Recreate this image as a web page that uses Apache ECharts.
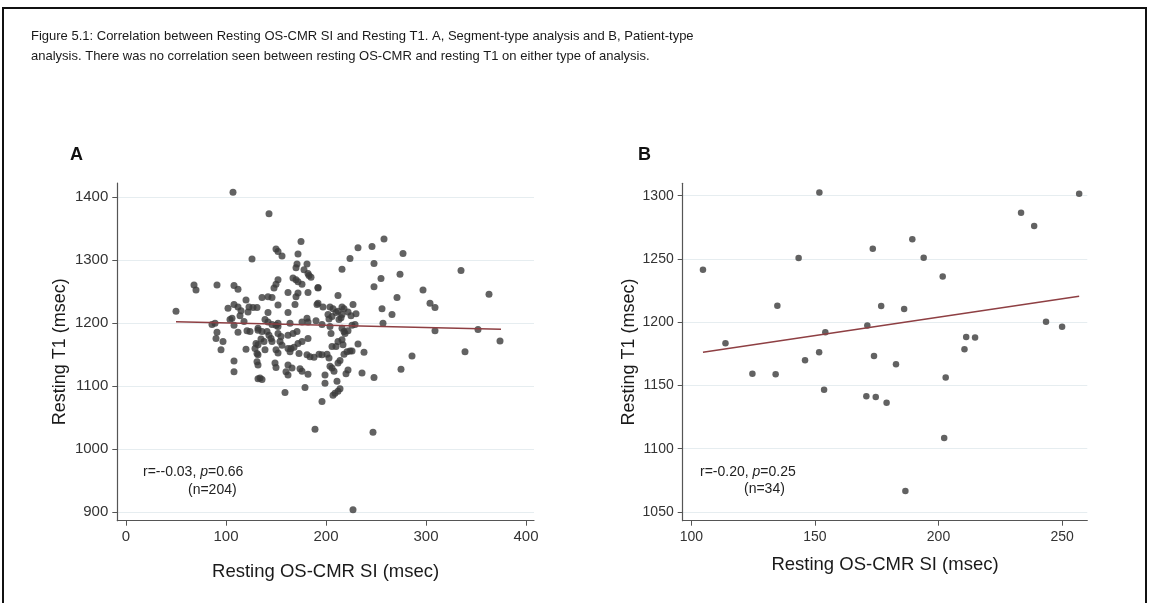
<!DOCTYPE html>
<html>
<head>
<meta charset="utf-8">
<script src="https://cdn.jsdelivr.net/npm/echarts@6/dist/echarts.min.js"></script>
<style>
html,body{margin:0;padding:0;background:#fff;}
#chart{width:1150px;height:603px;}
</style>
</head>
<body>
<div id="chart"></div>
<script>
// ---------- DATA ----------
const captionLines = [
  "Figure 5.1: Correlation between Resting OS-CMR SI and Resting T1. A, Segment-type analysis and B, Patient-type",
  "analysis. There was no correlation seen between resting OS-CMR and resting T1 on either type of analysis."
];
const xTitle = "Resting OS-CMR SI (msec)";
const yTitle = "Resting T1 (msec)";

const xTicksA = [0, 100, 200, 300, 400];
const yTicksA = [900, 1000, 1100, 1200, 1300, 1400];
const xTicksB = [100, 150, 200, 250];
const yTicksB = [1050, 1100, 1150, 1200, 1250, 1300];

// Panel A: segment-type analysis (x = OS-CMR SI, y = T1)
const pointsA = [
  [50,1219],[68,1261],[70,1253],[86,1198],[89,1200],[91,1261],[91,1186],[90,1176],[97,1171],[95,1158],
  [102,1224],[104,1206],[106,1208],[108,1230],[108,1260],[112,1254],[108,1197],[108,1140],[108,1123],[107,1408],
  [112,1226],[114,1212],[115,1220],[118,1203],[112,1186],[120,1237],[122,1218],[123,1226],[127,1225],[131,1225],
  [121,1188],[124,1187],[120,1159],[126,1302],[130,1168],[132,1166],[131,1152],[132,1150],[132,1134],[132,1112],
  [132,1189],[134,1113],[136,1111],[131,1139],[132,1192],[136,1187],[136,1241],[142,1242],[146,1241],[143,1374],
  [150,1318],[152,1314],[156,1307],[172,1310],[175,1330],[171,1294],[170,1288],[181,1294],[178,1285],[182,1279],
  [183,1276],[185,1273],[167,1272],[170,1269],[172,1266],[176,1262],[152,1269],[150,1262],[148,1256],[192,1256],
  [162,1249],[172,1248],[170,1242],[182,1249],[152,1229],[169,1230],[191,1230],[142,1217],[162,1217],
  [181,1208],[139,1206],[142,1202],[146,1198],[150,1197],[152,1200],[152,1195],[164,1200],[176,1202],
  [182,1202],[190,1204],[141,1187],[143,1181],[145,1176],[152,1184],[155,1179],[162,1181],[167,1184],[171,1187],
  [135,1175],[138,1171],[146,1171],[154,1171],[156,1165],[162,1160],[164,1155],[172,1168],[176,1171],
  [182,1176],[129,1160],[139,1158],[150,1158],[152,1153],[173,1152],[181,1150],[184,1147],[188,1146],
  [149,1137],[150,1130],[162,1134],[166,1129],[174,1128],[176,1124],[182,1119],[160,1123],[162,1118],[179,1098],
  [159,1090],[165,1160],[168,1162],
  [232,1320],[246,1322],[224,1303],[216,1286],[248,1295],[248,1258],[192,1257],[212,1244],[192,1232],[197,1226],
  [204,1226],[207,1223],[210,1217],[212,1219],[216,1226],[218,1223],[216,1214],[215,1209],[213,1206],
  [222,1218],[225,1212],[227,1230],[230,1215],[202,1214],[206,1211],[203,1207],[196,1198],[204,1195],
  [205,1184],[216,1192],[218,1187],[219,1184],[222,1188],[226,1197],[229,1198],[212,1171],[216,1174],
  [217,1166],[210,1163],[206,1163],[232,1167],[193,1151],[196,1150],[201,1151],[203,1145],[218,1151],[221,1155],
  [224,1156],[226,1156],[238,1154],[214,1141],[212,1137],[204,1132],[206,1129],[208,1124],[222,1126],[220,1120],
  [236,1121],[199,1118],[199,1105],[211,1108],[214,1096],[212,1092],[209,1089],[207,1086],[248,1114],
  [196,1076],[189,1032],
  [258,1334],[277,1311],[335,1284],[274,1278],[255,1271],[297,1253],[271,1241],[363,1246],[304,1232],[309,1225],
  [256,1223],[266,1214],[257,1200],[309,1188],[352,1190],[374,1172],[339,1155],[286,1148],[275,1127],[247,1027],
  [227,904]
];
const fitA = [[50,1202.5],[375,1190.5]];

// Panel B: patient-type analysis
const pointsB = [
  [104.7,1241.5],[113.8,1183.3],[124.7,1159.3],[134.1,1158.8],[134.8,1213.1],[143.4,1250.7],[146.0,1169.9],
  [151.7,1176.2],[151.8,1302.6],[153.7,1146.7],[154.2,1192.0],[170.8,1141.4],[171.2,1197.3],[173.4,1258.1],
  [173.9,1173.3],[174.6,1140.9],[176.8,1212.8],[179.0,1136.4],[182.8,1166.7],[186.1,1210.4],[186.6,1066.6],
  [189.4,1265.5],[194.0,1251.0],[201.7,1236.2],[202.3,1108.5],[202.9,1156.2],[210.5,1178.6],[211.2,1188.3],
  [214.8,1188.0],[233.4,1286.6],[238.7,1276.0],[243.5,1200.4],[250.0,1196.5],[256.9,1301.6]
];
const fitB = [[104.7,1176.2],[256.9,1220.5]];

const statsA = {r: "r=--0.03, ", p: "=0.66", n: "(n=204)"};
const statsB = {r: "r=-0.20, ", p: "=0.25", n: "(n=34)"};

// ---------- CHART ----------
const FONT = '"Liberation Sans", Arial, sans-serif';
const chart = echarts.init(document.getElementById('chart'), null, {renderer: 'canvas'});
const plain = v => String(v);

function xAxisCfg(gridIndex, min, max, ticks, nameGap, fs) {
  return {
    type: 'value', gridIndex, min, max,
    name: xTitle, nameLocation: 'middle', nameGap,
    nameTextStyle: {fontFamily: FONT, fontSize: 18.5, color: '#1a1a1a'},
    axisLine: {show: true, onZero: false, lineStyle: {color: '#555', width: 1.2}},
    axisTick: {show: true, length: 5, customValues: ticks, lineStyle: {color: '#555', width: 1}},
    axisLabel: {show: true, customValues: ticks, formatter: plain, margin: 9, fontFamily: FONT, fontSize: fs, color: '#333'},
    splitLine: {show: false}
  };
}
function yAxisCfg(gridIndex, min, max, ticks, nameGap, fs) {
  return {
    type: 'value', gridIndex, min, max,
    name: yTitle, nameLocation: 'middle', nameGap, nameRotate: 90,
    nameTextStyle: {fontFamily: FONT, fontSize: 18, color: '#1a1a1a'},
    axisLine: {show: true, onZero: false, lineStyle: {color: '#555', width: 1.2}},
    axisTick: {show: true, length: 5, customValues: ticks, lineStyle: {color: '#555', width: 1}},
    axisLabel: {show: true, customValues: ticks, formatter: plain, margin: 9, fontFamily: FONT, fontSize: fs, color: '#333'},
    splitLine: {show: true, lineStyle: {color: '#e6edf0', width: 1}}
  };
}

const option = {
  animation: false,
  backgroundColor: '#ffffff',
  grid: [
    {left: 117.3, right: 1150 - 534, top: 183, bottom: 603 - 520.7, containLabel: false},
    {left: 682.7, right: 1150 - 1087.3, top: 183.3, bottom: 603 - 520.7, containLabel: false}
  ],
  xAxis: [
    xAxisCfg(0, -8.7, 408, xTicksA, 42, 15),
    xAxisCfg(1, 96.5, 260.2, xTicksB, 35, 14)
  ],
  yAxis: [
    yAxisCfg(0, 886.7, 1422.7, yTicksA, 48, 15),
    yAxisCfg(1, 1043.1, 1309.8, yTicksB, 45, 14)
  ],
  series: [
    {type: 'scatter', xAxisIndex: 0, yAxisIndex: 0, data: pointsA, symbolSize: 7,
     itemStyle: {color: '#3b3b3b'}, z: 3},
    {type: 'line', xAxisIndex: 0, yAxisIndex: 0, data: fitA, symbol: 'none',
     lineStyle: {color: '#8e3f43', width: 1.4}, z: 4},
    {type: 'scatter', xAxisIndex: 1, yAxisIndex: 1, data: pointsB, symbolSize: 6.5,
     itemStyle: {color: '#3b3b3b'}, z: 3},
    {type: 'line', xAxisIndex: 1, yAxisIndex: 1, data: fitB, symbol: 'none',
     lineStyle: {color: '#8e3f43', width: 1.4}, z: 4}
  ],
  graphic: [
    {type: 'rect', shape: {x: 3, y: 8, width: 1143, height: 640},
     style: {fill: 'none', stroke: '#111', lineWidth: 2}, silent: true},
    {type: 'text', left: 31, top: 30, style: {text: captionLines[0], font: '13px ' + FONT, fill: '#1a1a1a'}},
    {type: 'text', left: 31, top: 50, style: {text: captionLines[1], font: '13px ' + FONT, fill: '#1a1a1a'}},
    {type: 'text', left: 70, top: 146, style: {text: 'A', font: 'bold 18px ' + FONT, fill: '#111'}},
    {type: 'text', left: 638, top: 146, style: {text: 'B', font: 'bold 18px ' + FONT, fill: '#111'}},
    {type: 'text', left: 143, top: 465, style: {
      text: '{n|' + statsA.r + '}{i|p}{n|' + statsA.p + '}',
      rich: {n: {font: '14px ' + FONT, fill: '#222'}, i: {font: 'italic 14px ' + FONT, fill: '#222'}}}},
    {type: 'text', left: 188, top: 483, style: {text: statsA.n, font: '14px ' + FONT, fill: '#222'}},
    {type: 'text', left: 700, top: 465, style: {
      text: '{n|' + statsB.r + '}{i|p}{n|' + statsB.p + '}',
      rich: {n: {font: '14px ' + FONT, fill: '#222'}, i: {font: 'italic 14px ' + FONT, fill: '#222'}}}},
    {type: 'text', left: 744, top: 482, style: {text: statsB.n, font: '14px ' + FONT, fill: '#222'}}
  ]
};
chart.setOption(option);
</script>
</body>
</html>
